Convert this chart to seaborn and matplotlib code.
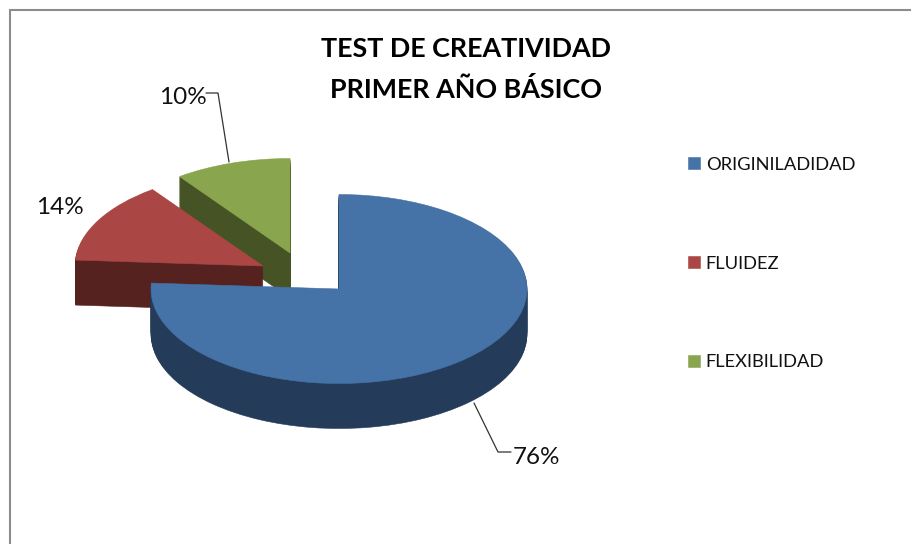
import matplotlib
matplotlib.use("Agg")
import matplotlib.pyplot as plt
import seaborn as sns
from matplotlib.lines import Line2D

categories = ["ORIGINILADIDAD", "FLUIDEZ", "FLEXIBILIDAD"]
shares = [76, 14, 10]
top_colors = ["#4572A7", "#AA4643", "#89A54E"]
side_colors = ["#243B5A", "#552220", "#465325"]
title_lines = ["TEST DE CREATIVIDAD", "PRIMER AÑO BÁSICO"]

sns.set_theme(style="white")
plt.rcParams["font.family"] = ["Lato", "DejaVu Sans"]

W, H = 911, 544
RX, RY = 188.0, 94.5
K = RX / RY
DEPTH = 45
apex = [(339, 289), (263, 266), (290, 253)]

fig = plt.figure(figsize=(W / 100, H / 100), dpi=100, facecolor="white")
ax = fig.add_axes([0, 0, 1, 1])


def yd(py):
    return (H - py) * K


def draw(i, cx, cy, color, z):
    wedges, _ = ax.pie(shares, startangle=90, counterclock=False, radius=RX,
                       center=(cx, yd(cy)), colors=top_colors)
    for j, w in enumerate(wedges):
        if j == i:
            w.set_facecolor(color)
            w.set_edgecolor(color)
            w.set_linewidth(0.4)
            w.set_zorder(z)
        else:
            w.remove()
    return wedges[i]


handles = {}
for order, i in enumerate([2, 1, 0]):
    cx, cy = apex[i]
    base = order * 1000
    for d in range(DEPTH, 0, -1):
        draw(i, cx, cy + d, side_colors[i], base + DEPTH - d)
    handles[i] = draw(i, cx, cy, top_colors[i], base + DEPTH + 1)

ax.set_aspect("auto")
ax.set_xlim(0, W)
ax.set_ylim(0, H * K)
ax.axis("off")

# chart frame
for xs, ys in [((10, 10), (544, 10)), ((10, 911), (10, 10))]:
    fig.add_artist(Line2D([x / W for x in xs], [1 - y / H for y in ys],
                          color="#8C8C8C", lw=1.5))

# title
for line, py in zip(title_lines, (49, 89)):
    ax.text(466, yd(py), line, ha="center", va="center", fontsize=19.4,
            fontweight="bold", color="black", zorder=9000)

# percentage labels with leader lines
label_pos = [(537, 457), (60, 208), (183, 98)]
for i, (px, py) in enumerate(label_pos):
    ax.text(px, yd(py), f"{shares[i]}%", ha="center", va="center",
            fontsize=17.5, color="#111111", zorder=9000)
leaders = {0: [(474, 403), (498, 452), (511, 452)],
           2: [(206, 93), (218, 93), (229, 162)]}
for i, pts in leaders.items():
    ax.plot([p[0] for p in pts], [yd(p[1]) for p in pts], color="#333333",
            lw=0.9, zorder=8999)

# legend
ax.legend([handles[i] for i in range(3)], categories, loc="upper left",
          bbox_to_anchor=(684 / W, 1 - 153 / H), bbox_transform=fig.transFigure,
          frameon=False, fontsize=13.2, handlelength=0.65, handleheight=0.65,
          handletextpad=0.34, labelspacing=4.52, borderpad=0.2, borderaxespad=0,
          labelcolor="#111111")

fig.savefig("out.png", dpi=100, facecolor="white")
